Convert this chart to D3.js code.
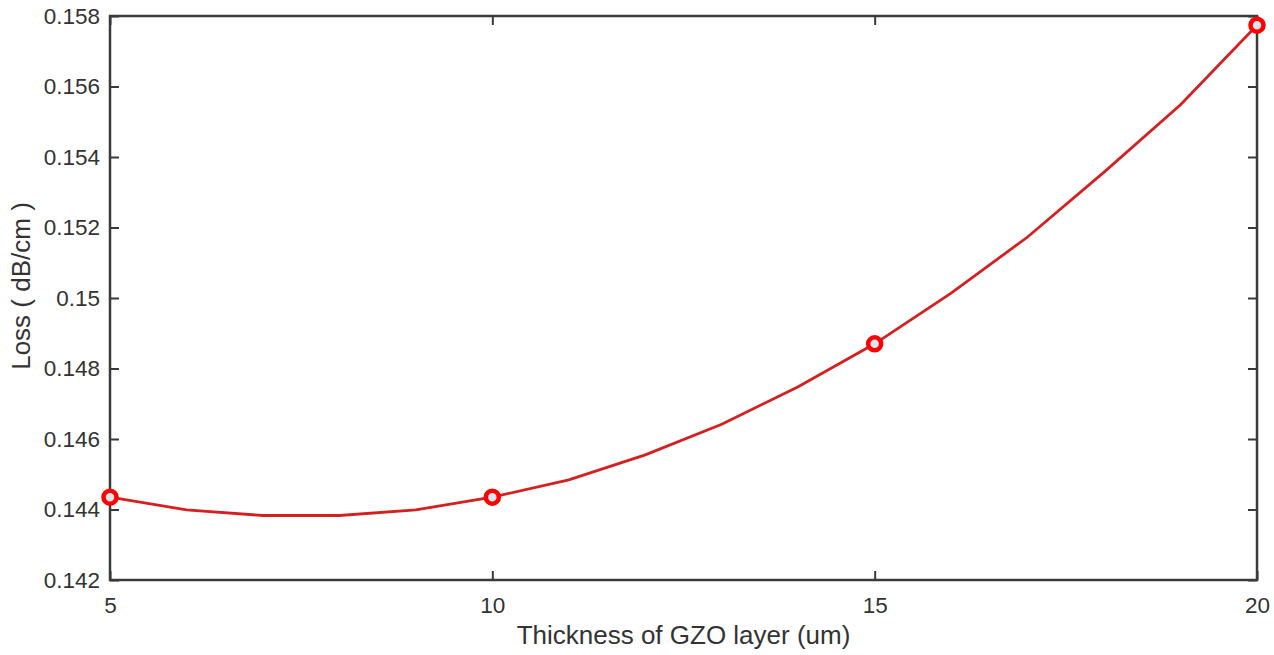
<!DOCTYPE html>
<html><head><meta charset="utf-8">
<script src="https://cdn.jsdelivr.net/npm/d3@7"></script>
<style>
html,body{margin:0;padding:0;background:#fff;}
svg{display:block;font-family:"Liberation Sans",Arial,sans-serif;}
</style></head>
<body><svg id="c" width="1274" height="655"></svg>
<script>
const thickness = [5,6,7,8,9,10,11,12,13,14,15,16,17,18,19,20];
const loss = [0.14435,0.14399,0.14383,0.14383,0.14399,0.14435,0.14484,0.14555,0.14642,0.14748,0.14870,0.15014,0.15173,0.15357,0.15548,0.15774];
const markerThickness = [5,10,15,20];
const markerLoss = [0.14435,0.14435,0.14870,0.15774];
const xTicks = [5,10,15,20];
const yTicks = [0.142,0.144,0.146,0.148,0.15,0.152,0.154,0.156,0.158];
const xLabel = "Thickness of GZO layer (um)";
const yLabel = "Loss ( dB/cm )";

const svg = d3.select("#c");
const L=110, R=1257, T=16, B=580;
const x = d3.scaleLinear().domain([5,20]).range([L,R]);
const y = d3.scaleLinear().domain([0.142,0.158]).range([B,T]);
const axisColor = "#3a3a3a";
const tickLen = 9;

function styleAxis(g){
  g.select(".domain").remove();
  g.selectAll("line").attr("stroke",axisColor).attr("stroke-width",2);
  g.selectAll("text").attr("fill","#333").attr("font-size","22.5px");
}
// bottom
svg.append("g").attr("transform",`translate(0,${B})`)
  .call(d3.axisBottom(x).tickValues(xTicks).tickSize(-tickLen).tickPadding(17).tickFormat(d3.format("d")))
  .call(styleAxis);
// top
svg.append("g").attr("transform",`translate(0,${T})`)
  .call(d3.axisTop(x).tickValues(xTicks).tickSize(-tickLen).tickFormat(""))
  .call(styleAxis);
// left
svg.append("g").attr("transform",`translate(${L},0)`)
  .call(d3.axisLeft(y).tickValues(yTicks).tickSize(-tickLen).tickPadding(10).tickFormat(d=>String(+d.toFixed(3))))
  .call(styleAxis);
// right
svg.append("g").attr("transform",`translate(${R},0)`)
  .call(d3.axisRight(y).tickValues(yTicks).tickSize(-tickLen).tickFormat(""))
  .call(styleAxis);
// box
svg.append("rect").attr("x",L).attr("y",T).attr("width",R-L).attr("height",B-T)
  .attr("fill","none").attr("stroke",axisColor).attr("stroke-width",2.5);

// line
const pts = thickness.map((t,i)=>[t,loss[i]]);
svg.append("path").datum(pts)
  .attr("d",d3.line().x(d=>x(d[0])).y(d=>y(d[1])))
  .attr("fill","none").attr("stroke","#d42020").attr("stroke-width",2.8);

// markers
svg.append("g").selectAll("circle").data(markerThickness.map((t,i)=>[t,markerLoss[i]]))
  .join("circle").attr("cx",d=>x(d[0])).attr("cy",d=>y(d[1])).attr("r",6.5)
  .attr("fill","#e4e4ee").attr("stroke","#ff0000").attr("stroke-width",4.5);

// labels
svg.append("text").attr("x",(L+R)/2).attr("y",644).attr("text-anchor","middle")
  .attr("font-size","26px").attr("fill","#333").text(xLabel);
svg.append("text").attr("transform",`translate(30,${286}) rotate(-90)`).attr("text-anchor","middle")
  .attr("font-size","26px").attr("fill","#333").text(yLabel);
</script></body></html>
